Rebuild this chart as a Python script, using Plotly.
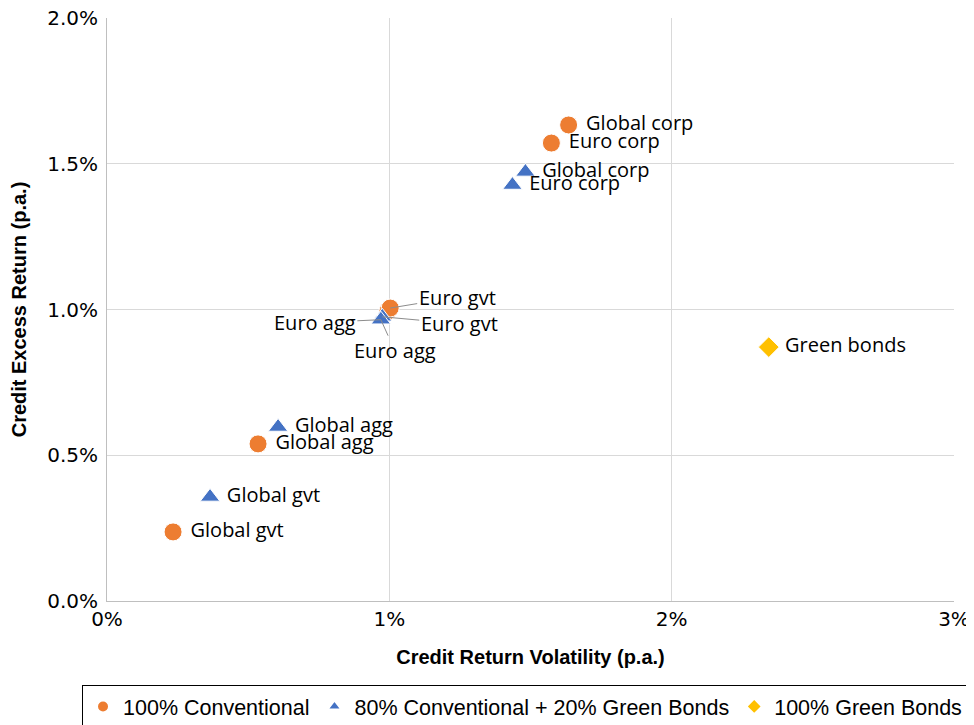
import plotly.graph_objects as go

# ---- data (percent units) ----
conv_names = ["Global corp", "Euro corp", "Euro agg", "Euro gvt", "Global agg", "Global gvt"]
conv_vol = [1.635, 1.574, 0.995, 1.003, 0.535, 0.234]
conv_ret = [1.633, 1.571, 0.995, 1.005, 0.539, 0.237]

mix_names = ["Global corp", "Euro corp", "Euro gvt", "Euro agg", "Global agg", "Global gvt"]
mix_vol = [1.482, 1.436, 0.975, 0.970, 0.606, 0.365]
mix_ret = [1.472, 1.427, 0.975, 0.965, 0.597, 0.357]

green_names = ["Green bonds"]
green_vol = [2.344]
green_ret = [0.871]

x_ticks = [0, 1, 2, 3]
y_ticks = [0.0, 0.5, 1.0, 1.5, 2.0]

crowded = {"Euro agg", "Euro gvt"}

LABEL_FONT = dict(family="Open Sans", size=20, color="#000000")

def lbl(names):
    return [" " + n if n not in crowded else "" for n in names]

fig = go.Figure()
fig.add_trace(go.Scatter(
    x=conv_vol, y=conv_ret, mode="markers+text", name="100% Conventional",
    text=lbl(conv_names), textposition="middle right", textfont=LABEL_FONT,
    marker=dict(symbol="circle", size=18, color="#ED7D31", line=dict(width=1, color="#ffffff")),
    cliponaxis=False,
))
fig.add_trace(go.Scatter(
    x=mix_vol, y=mix_ret, mode="markers+text", name="80% Conventional + 20% Green Bonds",
    text=lbl(mix_names), textposition="middle right", textfont=LABEL_FONT,
    marker=dict(symbol="triangle-up", size=17, color="#4472C4", line=dict(width=1, color="#ffffff")),
    cliponaxis=False,
))
fig.add_trace(go.Scatter(
    x=green_vol, y=green_ret, mode="markers+text", name="100% Green Bonds",
    text=[" " + n for n in green_names], textposition="middle right", textfont=LABEL_FONT,
    marker=dict(symbol="diamond", size=16, color="#FFC000", line=dict(width=1, color="#ffffff")),
    cliponaxis=False,
))

# leader-line labels for the crowded cluster (series, name, pixel offsets)
callouts = [
    ("conv", "Euro gvt", 67, -11),
    ("mix", "Euro agg", -66, 3),
    ("mix", "Euro gvt", 77, 7),
    ("mix", "Euro agg", 14, 31),
]
series = {"conv": (conv_names, conv_vol, conv_ret), "mix": (mix_names, mix_vol, mix_ret)}
for s, name, ax, ay in callouts:
    names, xs, ys = series[s]
    i = names.index(name)
    fig.add_annotation(
        x=xs[i], y=ys[i], text=name, showarrow=True, arrowhead=0, arrowwidth=1,
        arrowcolor="#8c8c8c", ax=ax, ay=ay, font=LABEL_FONT, standoff=0,
    )

fig.update_layout(
    width=974, height=725,
    margin=dict(l=99, r=28, t=10, b=132, autoexpand=False),
    paper_bgcolor="white", plot_bgcolor="white",
    showlegend=True,
    legend=dict(
        orientation="h", x=-0.0295, xanchor="left", y=-0.144, yanchor="top",
        bordercolor="#000000", borderwidth=1,
        font=dict(family="Liberation Sans", size=21.5, color="#000000"),
        itemsizing="constant", tracegroupgap=0, itemwidth=30,
    ),
    xaxis=dict(
        range=[0, 3], tickvals=x_ticks, ticktext=[f"{v}%" for v in x_ticks],
        showgrid=True, gridcolor="#d9d9d9", gridwidth=1, automargin=False,
        showline=True, linecolor="#bfbfbf", linewidth=1, zeroline=False,
        ticks="", ticklabeloverflow="allow",
        tickfont=dict(family="DejaVu Sans", size=20, color="#000000"),
        title=dict(text="<b>Credit Return Volatility (p.a.)</b>", standoff=19,
                   font=dict(family="Liberation Sans", size=20, color="#000000")),
    ),
    yaxis=dict(
        range=[0, 2], tickvals=y_ticks, ticktext=[f"{v:.1f}%" for v in y_ticks],
        showgrid=True, gridcolor="#d9d9d9", gridwidth=1, automargin=False,
        showline=True, linecolor="#bfbfbf", linewidth=1, zeroline=False,
        ticks="", ticklabelstandoff=4, ticklabeloverflow="allow",
        tickfont=dict(family="DejaVu Sans", size=20, color="#000000"),
        title=dict(text="<b>Credit Excess Return (p.a.)</b>", standoff=30,
                   font=dict(family="Liberation Sans", size=20, color="#000000")),
    ),
)

fig.write_html("out.html")
